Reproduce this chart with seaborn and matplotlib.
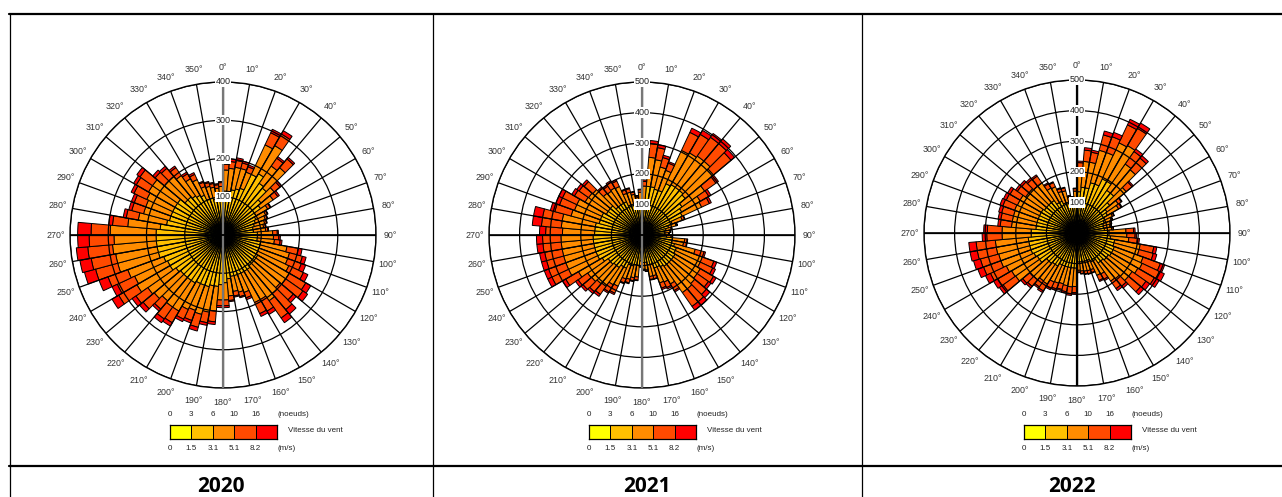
import numpy as np
import pandas as pd
import matplotlib
matplotlib.use('Agg')
import matplotlib.pyplot as plt
import seaborn as sns
from matplotlib.colors import ListedColormap
from matplotlib.lines import Line2D

sns.set_theme(style='white')
plt.rcParams['font.family'] = ['Liberation Sans', 'DejaVu Sans']

W, H = 1282, 497

# Données
years = ['2020', '2021', '2022']
directions = list(range(0, 360, 5))   # secteurs de 5°
speed_classes = ['0-1.5', '1.5-3.1', '3.1-5.1', '5.1-8.2', '>8.2']
class_colors = ['#FFFF00', '#FFC000', '#FF8C00', '#FF4A00', '#FF0000']
knots_labels = ['0', '3', '6', '10', '16']
ms_labels = ['0', '1.5', '3.1', '5.1', '8.2']
rings_2020 = [100, 200, 300, 400]
rings_2021 = [100, 200, 300, 400, 500]
rings_2022 = [100, 200, 300, 400, 500]

# 2020 - nombre d'observations par secteur et classe de vitesse
c1_2020 = [30, 30, 30, 30, 30, 35, 35, 35, 35, 30, 30, 25,
           25, 25, 25, 25, 25, 25, 25, 25, 25, 25, 25, 25,
           25, 25, 25, 25, 25, 25, 25, 25, 25, 25, 25, 30,
           30, 30, 30, 30, 30, 30, 30, 30, 30, 30, 30, 35,
           35, 35, 40, 40, 40, 40, 45, 40, 35, 35, 35, 35,
           35, 35, 30, 30, 30, 30, 30, 25, 25, 25, 25, 25]
c2_2020 = [85, 85, 90, 95, 100, 140, 150, 130, 125, 100, 90, 75,
           70, 65, 60, 55, 55, 65, 65, 65, 75, 75, 75, 75,
           80, 80, 80, 80, 85, 85, 85, 85, 85, 85, 90, 95,
           100, 105, 105, 110, 110, 110, 115, 115, 115, 115, 120, 125,
           125, 130, 135, 135, 135, 135, 130, 125, 115, 110, 110, 110,
           110, 110, 100, 100, 95, 90, 85, 75, 75, 70, 70, 70]
c3_2020 = [55, 60, 60, 55, 45, 85, 85, 55, 70, 45, 40, 35,
           28, 28, 28, 28, 32, 40, 42, 45, 70, 80, 80, 90,
           95, 95, 90, 95, 100, 85, 85, 50, 45, 40, 45, 45,
           40, 65, 70, 75, 70, 75, 85, 85, 80, 90, 90, 100,
           95, 100, 110, 110, 115, 110, 120, 85, 75, 70, 70, 75,
           80, 80, 70, 70, 65, 50, 45, 35, 32, 32, 28, 32]
c4_2020 = [15, 18, 18, 15, 15, 35, 35, 25, 30, 20, 15, 8,
           5, 5, 5, 5, 6, 12, 14, 15, 30, 35, 38, 42,
           50, 55, 45, 55, 55, 35, 32, 15, 12, 12, 12, 15,
           15, 28, 28, 35, 28, 28, 35, 38, 28, 38, 38, 55,
           50, 55, 60, 65, 65, 65, 50, 40, 32, 32, 32, 37,
           37, 40, 32, 28, 25, 15, 15, 12, 10, 10, 9, 10]
c5_2020 = [5, 7, 7, 5, 5, 10, 10, 5, 5, 5, 5, 2,
           2, 2, 2, 2, 2, 3, 4, 5, 10, 10, 12, 13,
           15, 15, 10, 15, 15, 10, 8, 5, 3, 3, 3, 5,
           5, 7, 7, 10, 7, 7, 10, 12, 7, 12, 12, 20,
           15, 25, 30, 30, 30, 30, 35, 10, 8, 8, 8, 8,
           8, 10, 8, 7, 5, 5, 5, 3, 3, 3, 3, 3]

# 2021
c1_2021 = [35, 40, 40, 40, 40, 45, 45, 45, 45, 45, 40, 40,
           40, 30, 30, 30, 30, 30, 30, 30, 30, 30, 35, 35,
           35, 35, 35, 35, 35, 35, 35, 35, 30, 30, 30, 30,
           30, 30, 30, 30, 30, 35, 35, 35, 35, 35, 35, 40,
           40, 40, 40, 40, 40, 40, 40, 40, 40, 40, 40, 40,
           35, 35, 35, 35, 35, 35, 35, 30, 30, 30, 30, 30]
c2_2021 = [80, 120, 120, 115, 115, 140, 145, 145, 145, 140, 120, 110,
           105, 75, 60, 50, 45, 45, 50, 70, 70, 80, 85, 85,
           90, 90, 90, 90, 90, 85, 80, 80, 70, 70, 60, 60,
           55, 70, 70, 75, 75, 85, 85, 95, 95, 100, 100, 110,
           120, 120, 120, 120, 120, 120, 115, 115, 115, 105, 105, 105,
           100, 100, 100, 85, 85, 85, 85, 75, 75, 70, 65, 75]
c3_2021 = [45, 95, 90, 75, 70, 120, 120, 125, 125, 120, 90, 70,
           70, 35, 25, 17, 17, 12, 15, 40, 38, 70, 90, 90,
           95, 95, 100, 105, 105, 65, 55, 52, 38, 38, 25, 22,
           17, 38, 42, 45, 48, 65, 68, 75, 78, 80, 82, 90,
           105, 105, 105, 105, 105, 105, 105, 110, 110, 95, 90, 90,
           80, 78, 75, 58, 55, 58, 55, 40, 40, 35, 28, 35]
c4_2021 = [15, 45, 40, 32, 25, 65, 70, 75, 75, 75, 45, 32,
           28, 8, 4, 2, 2, 2, 4, 8, 10, 30, 40, 45,
           50, 45, 50, 55, 55, 25, 20, 18, 10, 10, 4, 2,
           2, 10, 10, 12, 14, 25, 27, 32, 34, 37, 38, 48,
           60, 60, 58, 58, 60, 60, 55, 65, 65, 55, 52, 52,
           40, 38, 37, 22, 20, 22, 20, 12, 12, 8, 5, 8]
c5_2021 = [5, 10, 10, 8, 5, 15, 15, 15, 20, 15, 10, 8,
           7, 2, 1, 1, 1, 1, 1, 2, 2, 5, 10, 10,
           10, 10, 15, 15, 15, 5, 5, 5, 2, 2, 1, 1,
           1, 2, 3, 3, 3, 5, 5, 8, 8, 8, 10, 12,
           15, 15, 17, 17, 20, 20, 20, 30, 30, 15, 13, 13,
           10, 9, 8, 5, 5, 5, 5, 3, 3, 2, 2, 2]

# 2022
c1_2022 = [35, 40, 40, 40, 40, 45, 45, 40, 40, 35, 35, 35,
           30, 30, 30, 30, 30, 30, 30, 30, 35, 35, 35, 35,
           35, 35, 35, 35, 35, 30, 30, 30, 30, 30, 30, 30,
           30, 30, 30, 30, 30, 30, 35, 35, 35, 35, 40, 40,
           40, 40, 40, 40, 40, 40, 40, 35, 35, 35, 35, 35,
           35, 35, 35, 35, 35, 30, 30, 30, 30, 30, 30, 30]
c2_2022 = [100, 110, 110, 130, 130, 150, 150, 130, 130, 105, 85, 80,
           70, 65, 60, 58, 60, 75, 75, 80, 90, 90, 95, 95,
           95, 90, 90, 85, 85, 75, 75, 65, 65, 65, 65, 65,
           85, 85, 85, 85, 85, 85, 90, 90, 95, 95, 110, 110,
           115, 120, 120, 120, 120, 110, 110, 100, 100, 100, 100, 100,
           100, 95, 95, 95, 95, 85, 85, 75, 75, 65, 62, 72]
c3_2022 = [70, 85, 85, 110, 110, 130, 135, 105, 100, 70, 45, 42,
           28, 24, 23, 22, 24, 55, 58, 60, 85, 85, 100, 105,
           100, 95, 95, 75, 72, 50, 48, 33, 33, 32, 30, 27,
           60, 62, 60, 57, 60, 62, 68, 66, 70, 72, 95, 97,
           100, 105, 105, 108, 108, 95, 95, 80, 80, 80, 82, 80,
           80, 75, 75, 70, 70, 55, 52, 40, 38, 24, 22, 35]
c4_2022 = [25, 37, 33, 52, 55, 65, 65, 50, 50, 25, 12, 10,
           5, 4, 4, 4, 5, 25, 27, 28, 45, 48, 60, 62,
           62, 55, 52, 32, 30, 20, 18, 10, 10, 9, 8, 6,
           20, 22, 20, 19, 20, 22, 26, 24, 28, 30, 50, 52,
           57, 60, 62, 63, 63, 50, 48, 37, 38, 40, 41, 40,
           38, 33, 31, 29, 27, 16, 15, 10, 10, 4, 4, 8]
c5_2022 = [5, 8, 7, 13, 15, 20, 20, 10, 10, 5, 3, 3,
           2, 2, 1, 1, 1, 5, 5, 7, 10, 12, 15, 18,
           18, 15, 13, 8, 8, 5, 4, 2, 2, 2, 2, 2,
           5, 6, 5, 4, 5, 6, 6, 5, 7, 8, 15, 16,
           18, 20, 23, 24, 24, 15, 12, 8, 9, 10, 10, 10,
           9, 7, 7, 6, 5, 4, 3, 3, 2, 2, 2, 2]

series = {
    '2020': [c1_2020, c2_2020, c3_2020, c4_2020, c5_2020],
    '2021': [c1_2021, c2_2021, c3_2021, c4_2021, c5_2021],
    '2022': [c1_2022, c2_2022, c3_2022, c4_2022, c5_2022],
}
rings = {'2020': rings_2020, '2021': rings_2021, '2022': rings_2022}

rows = []
for year in years:
    for cls, vals in zip(speed_classes, series[year]):
        assert len(vals) == len(directions)
        for d, v in zip(directions, vals):
            rows.append({'annee': year, 'classe': cls, 'direction': d, 'nb': v})
df = pd.DataFrame(rows)

# Mise en page (pixels -> coordonnées figure)
R = 153
centers = {'2020': (223, 235), '2021': (642, 235), '2022': (1077, 233)}
col_centers = {'2020': 221, '2021': 647, '2022': 1072}


def fx(x):
    return x / W


def fy(y):
    return 1 - y / H


fig = plt.figure(figsize=(W / 100, H / 100), dpi=100)

for year in years:
    cx, cy = centers[year]
    ax = fig.add_axes([fx(cx - R), fy(cy + R), 2 * R / W, 2 * R / H], projection='polar')
    ax.set_theta_zero_location('N')
    ax.set_theta_direction(-1)
    ax.set_axisbelow(False)

    sub = df[df.annee == year].pivot(index='direction', columns='classe', values='nb')[speed_classes]
    theta = np.deg2rad(sub.index.values)
    bottom = np.zeros(len(sub))
    for cls, col in zip(speed_classes, class_colors):
        ax.bar(theta, sub[cls].values, width=np.deg2rad(5), bottom=bottom, align='edge',
               color=col, edgecolor='black', linewidth=0.7)
        bottom += sub[cls].values

    rmax = rings[year][-1]
    ax.set_ylim(0, rmax)
    ax.set_yticks(rings[year])
    ax.set_yticklabels([])
    ax.set_xticks(np.deg2rad(np.arange(0, 360, 10)))
    ax.set_xticklabels([f'{d}°' for d in range(0, 360, 10)], fontsize=6.4, color='#333333')
    ax.tick_params(axis='x', pad=-2.5)
    ax.grid(True, color='black', linewidth=0.9)
    ax.spines['polar'].set_color('black')
    ax.spines['polar'].set_linewidth(1.0)

    # axes N-S et E-O renforcés
    ns_col = '#777777' if year != '2022' else 'black'
    ax.plot([0, 0], [0, rmax], color=ns_col, lw=1.6, zorder=4)
    ax.plot([np.pi, np.pi], [0, rmax], color=ns_col, lw=1.6, zorder=4)
    ax.plot([np.pi / 2, np.pi / 2], [0, rmax], color='black', lw=1.2, zorder=4)
    ax.plot([3 * np.pi / 2, 3 * np.pi / 2], [0, rmax], color='black', lw=1.2, zorder=4)

    for r in rings[year]:
        ax.text(0, r, str(r), ha='center', va='center', fontsize=6.5, color='#222222', zorder=6,
                bbox=dict(boxstyle='square,pad=0.08', fc='white', ec='none'))

    # Légende : échelle des vitesses
    x0 = cx - 53
    lax = fig.add_axes([fx(x0), fy(439), 107 / W, 14 / H])
    sns.heatmap(np.array([[0, 1, 2, 3, 4]]), ax=lax, cmap=ListedColormap(class_colors),
                vmin=-0.5, vmax=4.5, cbar=False, linewidths=0.6, linecolor='black',
                xticklabels=False, yticklabels=False)
    for s in lax.spines.values():
        s.set_visible(True)
        s.set_color('black')
        s.set_linewidth(0.9)
    step = 107 / 5
    for k in range(5):
        fig.text(fx(x0 + k * step), fy(415), knots_labels[k], ha='center', va='center',
                 fontsize=5.8, color='#222222')
        fig.text(fx(x0 + k * step), fy(449), ms_labels[k], ha='center', va='center',
                 fontsize=5.8, color='#222222')
    fig.text(fx(x0 + 107), fy(415), '(noeuds)', ha='left', va='center', fontsize=5.8, color='#222222')
    fig.text(fx(x0 + 107), fy(449), '(m/s)', ha='left', va='center', fontsize=5.8, color='#222222')
    fig.text(fx(x0 + 118), fy(431), 'Vitesse du vent', ha='left', va='center', fontsize=5.8,
             color='#222222')

    fig.text(fx(col_centers[year]), fy(486), year, ha='center', va='center', fontsize=15,
             fontweight='bold', family=['Open Sans', 'DejaVu Sans'], color='black')

# Cadre du tableau
fig.add_artist(Line2D([fx(9), 1], [fy(14), fy(14)], transform=fig.transFigure, color='black', lw=1.6))
fig.add_artist(Line2D([fx(9), 1], [fy(466), fy(466)], transform=fig.transFigure, color='black', lw=1.6))
for xv in [10, 433, 862]:
    fig.add_artist(Line2D([fx(xv), fx(xv)], [fy(14), 0], transform=fig.transFigure, color='black', lw=0.9))

fig.savefig('out.png', dpi=100, facecolor='white')
